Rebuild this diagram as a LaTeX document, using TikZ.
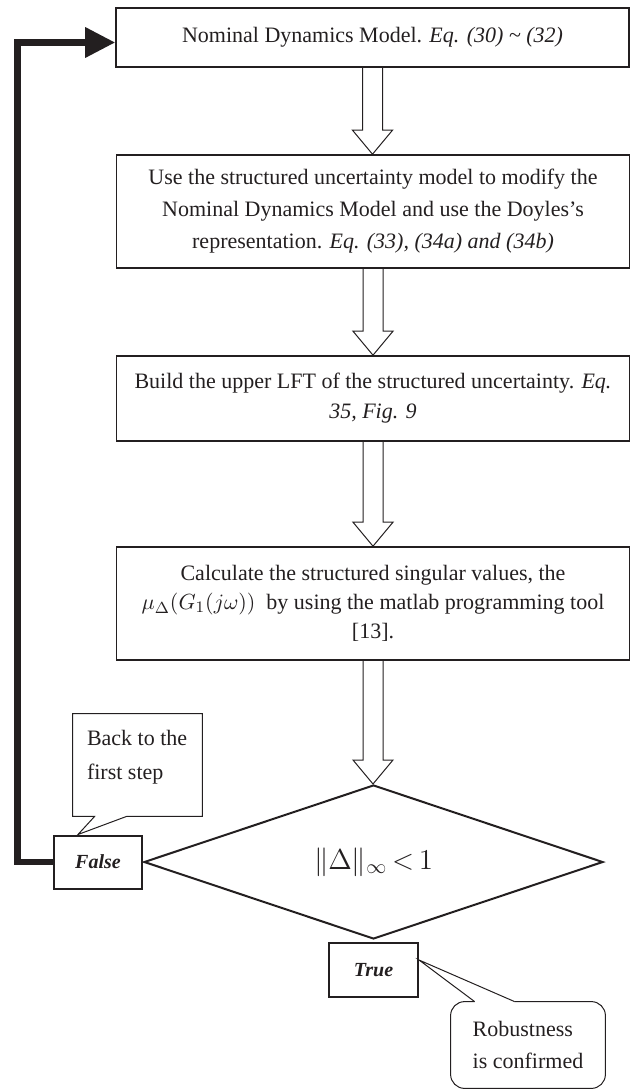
\documentclass[tikz,border=0pt]{standalone}
\usepackage{fontspec}
\setmainfont{Liberation Serif}
\usepackage{tikz}
\usetikzlibrary{shapes.geometric, arrows.meta, positioning, calc}
\definecolor{inkgray}{HTML}{231F20}

\begin{document}
\begin{tikzpicture}[
  x=0.5pt, y=-0.5pt, color=inkgray,
  every node/.style={font=\fontsize{11}{16}\selectfont},
  box/.style   ={draw, line width=0.8pt, minimum width=256.5pt,
                 align=center, inner sep=0pt},
  dec/.style   ={draw, diamond, line width=1pt, minimum width=229.5pt,
                 minimum height=77pt, inner sep=0pt,
                 font=\fontsize{14.5}{17}\selectfont},
  tf/.style    ={draw, line width=1pt, minimum width=44pt,
                 minimum height=26.5pt, inner sep=0pt,
                 font=\fontsize{10}{12}\selectfont\bfseries\itshape},
  harr/.style  ={draw, line width=0.5pt},
  backarr/.style={line width=3.25pt, -{Triangle[length=15pt, width=14.5pt]}},
  callbox/.style={draw, line width=0.5pt},
  calltxt/.style={align=left, inner sep=0pt}
]
\useasboundingbox (0,0) rectangle (632,1090);

%% steps
\node[box, minimum height=29.5pt] (n1) at (372.5,37.5)
  {Nominal Dynamics Model. \textit{Eq. (30) \textasciitilde{} (32)}};
\node[box, minimum height=56.5pt] (n2) at (373,211.5)
  {Use the structured uncertainty model to modify the\\
   Nominal Dynamics Model and use the Doyles’s\\
   representation. \textit{Eq. (33), (34a) and (34b)}};
\node[box, minimum height=42.5pt, font=\fontsize{11}{15}\selectfont] (n3) at (373,398.5)
  {Build the upper LFT of the structured uncertainty. \textit{Eq.}\\
   \textit{35, Fig. 9}};
\node[box, minimum height=56.5pt, font=\fontsize{11}{14.5}\selectfont] (n4) at (373,603.5)
  {Calculate the structured singular values, the\\
   $\mu_{\Delta}(G_1(j\omega))$\ \ by using the matlab programming tool\\
   {[13].}};

%% decision
\node[dec] (dia) at (373.5,862) {$\|\Delta\|_\infty\,{<}\,1$};
\node[tf, left=0pt of dia] (fls) {False};
\node[tf, below=1pt of dia, minimum width=44.5pt, minimum height=27pt] (tru) {True};

%% hollow arrows
\foreach \a/\b in {n1/n2, n2/n3, n3/n4, n4/dia}
  \path[harr] let \p1=(\a.south), \p2=(\b.north) in
    (\x1-5pt,\y1) -- (\x1-5pt,\y2+12pt) -- (\x1-10pt,\y2+12pt) -- (\x1,\y2)
    -- (\x1+10pt,\y2+12pt) -- (\x1+5pt,\y2+12pt) -- (\x1+5pt,\y1);

%% back to the first step
\coordinate (lp) at (17.5,862.5);
\draw[backarr] (fls.west) -- (fls.west -| lp) |- ($(n1.west)+(0,5)$);

%% callouts
\node[minimum width=64.5pt, minimum height=51pt, inner sep=0pt] (bk) at (137.5,765) {};
\node[calltxt, font=\fontsize{11}{17}\selectfont, anchor=north west] (bk_t)
  at ($(bk.north west)+(14,16)$) {Back to the\\first step};
\draw[callbox] ($(bk.south west)+(22,0)$) -- (bk.south west) -- (bk.north west)
  -- (bk.north east) -- (bk.south east) -- ($(bk.south west)+(54,0)$)
  -- ($(fls.north west)+(25,0)$) -- cycle;

\node[calltxt, minimum width=77pt, minimum height=43pt] (rob) at (528,1045)
  {Robustness\\is confirmed};
\draw[callbox, rounded corners=7pt] ($(rob.north west)+(64,0)$) -- (rob.north east)
  -- (rob.south east) -- (rob.south west) -- (rob.north west)
  -- ($(rob.north west)+(24,0)$);
\draw[callbox] ($(rob.north west)+(24,0)$) -- ($(tru.east)+(0,-10)$)
  -- ($(rob.north west)+(64,0)$);

\end{tikzpicture}
\end{document}
